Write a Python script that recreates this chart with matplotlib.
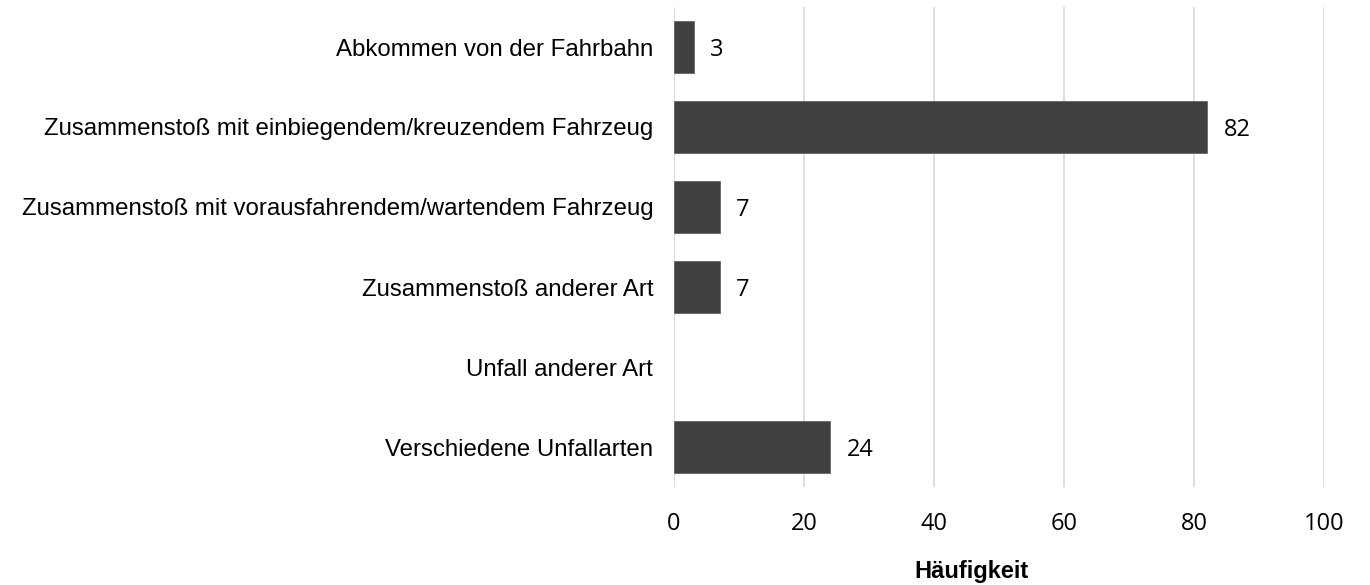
import numpy as np
import matplotlib
matplotlib.use("Agg")
import matplotlib.pyplot as plt

categories = [
    "Abkommen von der Fahrbahn",
    "Zusammenstoß mit einbiegendem/kreuzendem Fahrzeug",
    "Zusammenstoß mit vorausfahrendem/wartendem Fahrzeug",
    "Zusammenstoß anderer Art",
    "Unfall anderer Art",
    "Verschiedene Unfallarten",
]
values = [3, 82, 7, 7, np.nan, 24]
x_ticks = [0, 20, 40, 60, 80, 100]
x_label = "Häufigkeit"

W, H = 1370, 585
fig = plt.figure(figsize=(W / 100, H / 100), dpi=100)
ax = fig.add_axes([674 / W, 1 - 487 / H, 650 / W, 480 / H])

y = np.arange(len(categories))
ax.barh(y, values, height=0.66, color="#404040", edgecolor="#595959", linewidth=0.5, zorder=3)

for yi, v in zip(y, values):
    if not np.isnan(v):
        ax.annotate(f"{v:g}", xy=(v, yi), xytext=(12, 0), textcoords="offset points",
                    ha="left", va="center_baseline", fontsize=17, family="Open Sans",
                    color="#000000")

ax.set_xlim(0, 100)
ax.set_ylim(len(categories) - 0.5, -0.5)
ax.set_xticks(x_ticks)
ax.set_xticklabels([str(t) for t in x_ticks], family="Open Sans", fontsize=17)
ax.set_yticks(y)
ax.set_yticklabels(categories, family="Liberation Sans", fontsize=17.3)
ax.tick_params(axis="x", length=0, pad=18)
ax.tick_params(axis="y", length=0, pad=15)

ax.grid(axis="x", color="#d9d9d9", linewidth=1.25, zorder=0)
ax.grid(axis="y", visible=False)
for s in ax.spines.values():
    s.set_visible(False)

ax.set_xlabel(x_label, family="Liberation Sans", fontsize=17, fontweight="bold")
ax.xaxis.set_label_coords((972 - 674) / 650, -(578 - 487) / 480)
ax.xaxis.label.set_va("baseline")

fig.savefig("out.png", dpi=100)
